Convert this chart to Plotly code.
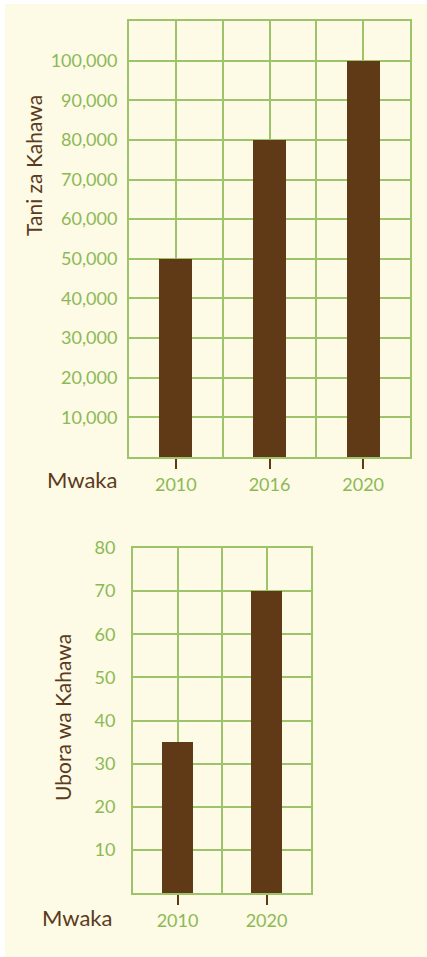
"""Coffee farmers and coffee quality, two bar charts."""

import plotly.graph_objects as go

# ----- Data -----
YEARS_TOP = ["2010", "2016", "2020"]
TANI = [50000, 80000, 100000]
TANI_TICKS = [10000, 20000, 30000, 40000, 50000, 60000, 70000, 80000, 90000, 100000]

YEARS_BOTTOM = ["2010", "2020"]
UBORA = [35, 70]
UBORA_TICKS = [10, 20, 30, 40, 50, 60, 70, 80]

# ----- Style -----
W, H = 427, 957
CREAM = "#fdfae6"
GRID = "#9dc46a"
LABEL_GREEN = "#8cb955"
BROWN = "#603a17"
TITLE_BROWN = "#5c3a1c"
FONT = "Lato"


def px_x(v):
    return v / W


def px_y(v):
    return 1 - v / H


fig = go.Figure()

fig.add_trace(go.Bar(
    x=list(range(len(YEARS_TOP))), y=TANI, width=0.35,
    marker=dict(color=BROWN, line=dict(width=0)),
    xaxis="x", yaxis="y", hoverinfo="skip",
))
fig.add_trace(go.Bar(
    x=list(range(len(YEARS_BOTTOM))), y=UBORA, width=0.35,
    marker=dict(color=BROWN, line=dict(width=0)),
    xaxis="x2", yaxis="y2", hoverinfo="skip",
))


def x_axis(years, domain, anchor):
    return dict(
        domain=domain, anchor=anchor,
        range=[-0.5, len(years) - 0.5],
        tickmode="array",
        tickvals=list(range(len(years))),
        ticktext=years,
        ticks="outside", ticklen=10, tickwidth=2, tickcolor=BROWN,
        tickfont=dict(family=FONT, size=18, color=LABEL_GREEN),
        showgrid=True, gridcolor=GRID, gridwidth=1.5,
        minor=dict(tick0=-0.5, dtick=0.5, showgrid=True,
                   gridcolor=GRID, gridwidth=1.5, ticks=""),
        showline=True, linecolor=GRID, linewidth=2, mirror=True,
        zeroline=False, fixedrange=True, automargin=False,
    )


def y_axis(ticks, top, domain, anchor, fmt, standoff):
    return dict(
        domain=domain, anchor=anchor,
        range=[0, top],
        tickmode="array",
        tickvals=ticks,
        tickformat=fmt,
        ticks="",
        ticklabelstandoff=standoff,
        tickfont=dict(family=FONT, size=18, color=LABEL_GREEN),
        showgrid=True, gridcolor=GRID, gridwidth=1.5,
        showline=True, linecolor=GRID, linewidth=2, mirror=True,
        zeroline=False, fixedrange=True, automargin=False,
    )


fig.update_layout(
    width=W, height=H,
    margin=dict(l=0, r=0, t=0, b=0),
    paper_bgcolor="white",
    plot_bgcolor=CREAM,
    showlegend=False,
    bargap=0,
    xaxis=x_axis(YEARS_TOP, [px_x(129), px_x(410)], "y"),
    yaxis=y_axis(TANI_TICKS, 110000, [px_y(457), px_y(21)], "x", ",", 6),
    xaxis2=x_axis(YEARS_BOTTOM, [px_x(133), px_x(311)], "y2"),
    yaxis2=y_axis(UBORA_TICKS, 80, [px_y(893), px_y(548)], "x2", "d", 12),
    shapes=[dict(
        type="rect", xref="paper", yref="paper",
        x0=px_x(5), x1=1, y0=0, y1=px_y(4),
        fillcolor=CREAM, line=dict(width=0), layer="below",
    )],
    annotations=[
        dict(text="Mwaka", xref="paper", yref="paper",
             x=px_x(119), y=px_y(479), xanchor="right", yanchor="middle",
             showarrow=False, font=dict(family=FONT, size=22, color=TITLE_BROWN)),
        dict(text="Mwaka", xref="paper", yref="paper",
             x=px_x(114), y=px_y(917), xanchor="right", yanchor="middle",
             showarrow=False, font=dict(family=FONT, size=22, color=TITLE_BROWN)),
        dict(text="Tani za Kahawa", xref="paper", yref="paper",
             x=px_x(34), y=px_y(166), xanchor="center", yanchor="middle",
             textangle=-90, showarrow=False,
             font=dict(family=FONT, size=21, color=TITLE_BROWN)),
        dict(text="Ubora wa Kahawa", xref="paper", yref="paper",
             x=px_x(62), y=px_y(718), xanchor="center", yanchor="middle",
             textangle=-90, showarrow=False,
             font=dict(family=FONT, size=21, color=TITLE_BROWN)),
    ],
)

fig.write_html(
    "out.html",
    config=dict(displayModeBar=False),
    post_script="document.body.style.margin='0';",
)
